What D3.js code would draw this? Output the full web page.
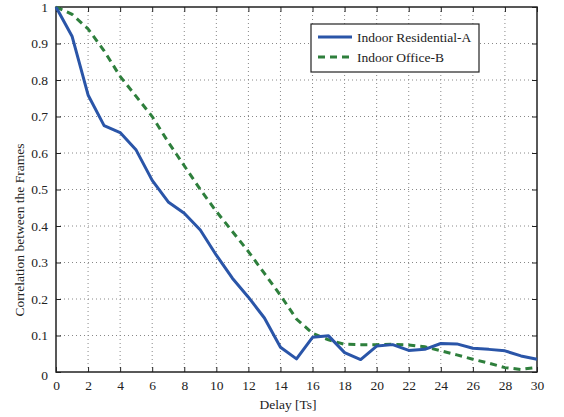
<!DOCTYPE html>
<html>
<head>
<meta charset="utf-8">
<script src="https://cdn.jsdelivr.net/npm/d3@7"></script>
<style>
  body { margin: 0; background: #fff; }
  svg { display: block; }
  svg text { font-family: "Liberation Serif", "Times New Roman", Times, serif !important; }
</style>
</head>
<body>
<svg id="chart" width="564" height="417"></svg>
<script>
// delay axis (Ts)
var delays = d3.range(0, 31);
var residentialA = [1.0, 0.92, 0.759, 0.675, 0.656, 0.608, 0.525, 0.466, 0.435, 0.389, 0.32,
    0.257, 0.205, 0.148, 0.068, 0.036, 0.095, 0.099, 0.053, 0.034, 0.071, 0.075,
    0.059, 0.062, 0.078, 0.077, 0.065, 0.062, 0.058, 0.044, 0.035];
var officeB = [1.0, 0.98, 0.94, 0.88, 0.81, 0.755, 0.70, 0.63, 0.565, 0.50, 0.44,
    0.385, 0.33, 0.27, 0.21, 0.145, 0.106, 0.088, 0.076, 0.075, 0.075, 0.076,
    0.074, 0.069, 0.058, 0.047, 0.035, 0.024, 0.012, 0.007, 0.013];
var xTicks = d3.range(0, 31, 2);
var yTicks = [0, 0.1, 0.2, 0.3, 0.4, 0.5, 0.6, 0.7, 0.8, 0.9, 1];
var seriesNames = ["Indoor Residential-A", "Indoor Office-B"];

var margin = {left: 56, right: 27, top: 7, bottom: 45};
var width = 564 - margin.left - margin.right;
var height = 417 - margin.top - margin.bottom;
var fs = 13.5;

var svg = d3.select("#chart");
var g = svg.append("g").attr("transform", "translate(" + margin.left + "," + margin.top + ")");

var x = d3.scaleLinear().domain([0, 30]).range([0, width]);
var y = d3.scaleLinear().domain([0, 1]).range([height, 0]);

// dotted grid
g.append("g").selectAll("line").data(xTicks.slice(1, -1)).enter().append("line")
    .attr("x1", d => x(d)).attr("x2", d => x(d))
    .attr("y1", 0).attr("y2", height)
    .attr("stroke", "#888").attr("stroke-width", 1).attr("stroke-dasharray", "1,3");
g.append("g").selectAll("line").data(yTicks.slice(1, -1)).enter().append("line")
    .attr("y1", d => y(d)).attr("y2", d => y(d))
    .attr("x1", 0).attr("x2", width)
    .attr("stroke", "#888").attr("stroke-width", 1).attr("stroke-dasharray", "1,3");

// axes, ticks pointing inward
var xAxis = g.append("g").attr("transform", "translate(0," + height + ")")
    .call(d3.axisBottom(x).tickValues(xTicks).tickSize(-5).tickPadding(8).tickSizeOuter(0));
var xTop = g.append("g")
    .call(d3.axisTop(x).tickValues(xTicks).tickSize(-5).tickFormat("").tickSizeOuter(0));
var yAxis = g.append("g")
    .call(d3.axisLeft(y).tickValues(yTicks).tickSize(-5).tickPadding(8).tickSizeOuter(0)
        .tickFormat(d => d === 0 || d === 1 ? d : d3.format(".1f")(d)));
var yRight = g.append("g").attr("transform", "translate(" + width + ",0)")
    .call(d3.axisRight(y).tickValues(yTicks).tickSize(-5).tickFormat("").tickSizeOuter(0));

[xAxis, xTop, yAxis, yRight].forEach(function(a) {
    a.attr("font-family", null);
    a.select(".domain").remove();
    a.selectAll("line").attr("stroke", "#222");
    a.selectAll("text").attr("font-size", fs).attr("fill", "#222");
});
yAxis.selectAll(".tick").filter(d => d === 0).select("text").attr("dy", "0.55em");

// frame
g.append("rect").attr("width", width).attr("height", height)
    .attr("fill", "none").attr("stroke", "#222").attr("stroke-width", 1.5);

var line = d3.line().x((d, i) => x(delays[i])).y(d => y(d));

g.append("path").datum(officeB).attr("d", line)
    .attr("fill", "none").attr("stroke", "#2e7f3c").attr("stroke-width", 3)
    .attr("stroke-dasharray", "7,5");
g.append("path").datum(residentialA).attr("d", line)
    .attr("fill", "none").attr("stroke", "#2a55a8").attr("stroke-width", 3)
    .attr("stroke-linejoin", "round");

// axis titles
svg.append("text").attr("x", 288).attr("y", 409)
    .attr("text-anchor", "middle").attr("font-size", fs).attr("fill", "#222")
    .text("Delay [Ts]");
svg.append("text").attr("transform", "translate(24,230) rotate(-90)")
    .attr("text-anchor", "middle").attr("font-size", fs).attr("fill", "#222")
    .text("Correlation between the Frames");

// legend
var legend = svg.append("g").attr("transform", "translate(311,24)");
legend.append("rect").attr("width", 168).attr("height", 48)
    .attr("fill", "#fff").attr("stroke", "#222").attr("stroke-width", 1.2);
var styles = [{c: "#2a55a8", dash: null}, {c: "#2e7f3c", dash: "7,5"}];
seriesNames.forEach(function(name, i) {
    var row = legend.append("g").attr("transform", "translate(0," + (13 + i * 20) + ")");
    row.append("line").attr("x1", 7).attr("x2", 41).attr("y1", 0).attr("y2", 0)
        .attr("stroke", styles[i].c).attr("stroke-width", 3)
        .attr("stroke-dasharray", styles[i].dash);
    row.append("text").attr("x", 46).attr("y", 0).attr("dy", "0.35em")
        .attr("font-size", fs).attr("fill", "#222").text(name);
});
</script>
</body>
</html>
